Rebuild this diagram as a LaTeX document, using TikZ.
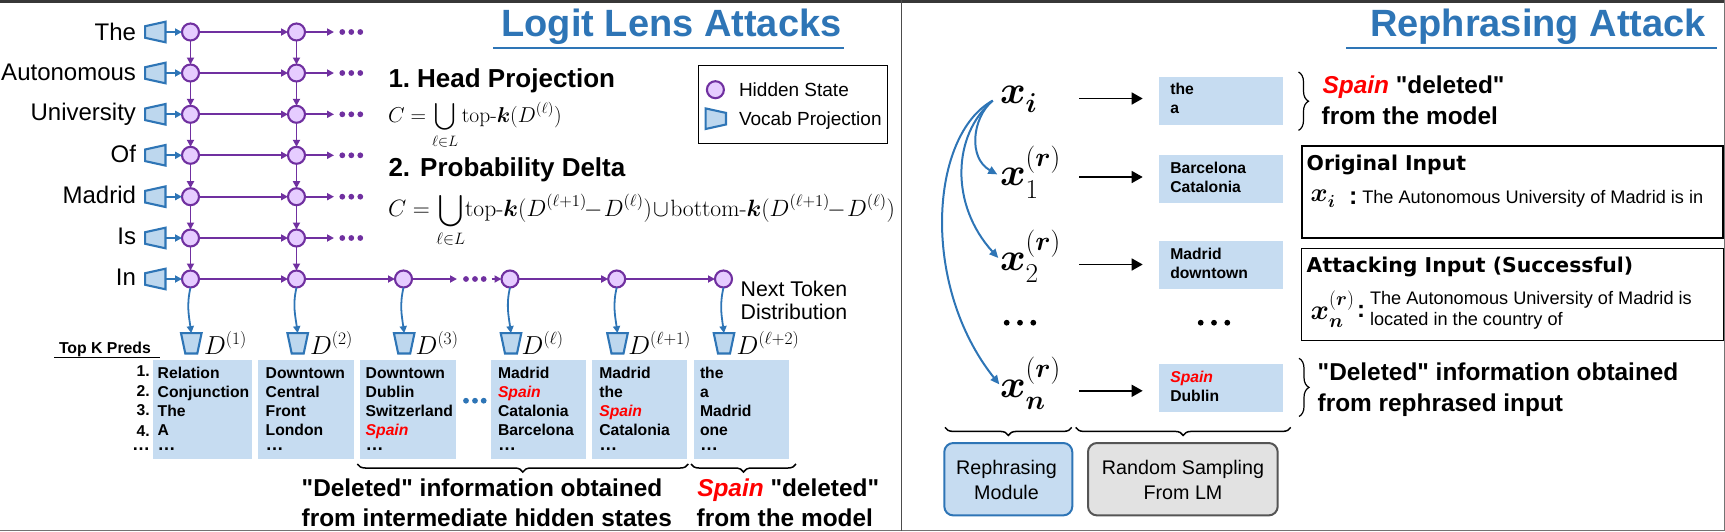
\RequirePackage{fix-cm}
\documentclass[tikz,border=0pt]{standalone}
\usepackage{amsmath}
\usepackage{graphicx}
\usepackage[no-math]{fontspec}
\setmainfont{Liberation Sans}[Ligatures=TeXOff]
\newfontfamily\lmr{Latin Modern Roman}
\newfontfamily\dvb{DejaVu Sans Bold}
\usetikzlibrary{arrows.meta,decorations.pathreplacing}
\DeclareMathSizes{39}{39}{27.3}{19.5}
\DeclareMathSizes{26}{26}{17.5}{13}
\DeclareMathSizes{28}{28}{19.6}{14}
\DeclareMathSizes{21.5}{21.5}{15.05}{10.75}
\DeclareMathSizes{23.6}{23.6}{16.5}{11.8}
\definecolor{purp}{HTML}{7030A0}
\definecolor{hid}{HTML}{E6CCFF}
\definecolor{blu}{HTML}{2E75B6}
\definecolor{vocab}{HTML}{BDD7EE}
\definecolor{pale}{HTML}{C6DCF1}
\definecolor{gfill}{HTML}{E2E2E2}
\definecolor{gline}{HTML}{555555}
\definecolor{spn}{HTML}{FF0000}
\newcommand\fsz[1]{\fontsize{#1}{#1}\selectfont}
\newcommand\Sp{\textcolor{spn}{\textit{Spain}}}
\newcommand\Ucup[1]{\mathop{\vcenter{\hbox{\scalebox{#1}{$\displaystyle\bigcup$}}}}\limits_{\ell\in L}}
\newcommand\xsub[3]{\fsz{#1}$\boldsymbol{x}_{\lower#2pt\hbox{$\scriptstyle\boldsymbol{#3}$}}$}
\newcommand\xr[4]{\fsz{#1}$\boldsymbol{x}^{\raise#2pt\hbox{$\scriptstyle(\boldsymbol{r})$}}_{\lower#3pt\hbox{$\scriptstyle #4$}}$}
\newcommand\vpL[3]{\node[vbox] (#1) at (#2,#3) {};
  \draw[vpl,shift={(#2,#3)}] (-10.2,-5.8)--(10.2,-10.3)--(10.2,10.3)--(-10.2,5.8)--cycle;}
\newcommand\vpR[3]{\node[vbox] (#1) at (#2,#3) {};
  \draw[vpl,shift={(#2,#3)}] (-10.2,-10.3)--(10.2,-5.8)--(10.2,5.8)--(-10.2,10.3)--cycle;}
\newcommand\vpD[3]{\node[vbox] (#1) at (#2,#3) {};
  \draw[vpl,shift={(#2,#3)}] (-10.3,-10.2)--(10.3,-10.2)--(6,10.2)--(-6,10.2)--cycle;}
\tikzset{
  txt/.style={inner sep=0pt,outer sep=0pt},
  vbox/.style={txt,minimum width=20.4pt,minimum height=20.4pt},
  vpl/.style={draw=blu,fill=vocab,line width=2.1pt,line join=miter},
  hs/.style={circle,draw=purp,fill=hid,line width=2.1pt,minimum size=17pt,inner sep=0pt,outer sep=0pt},
  parr/.style={draw=purp,line width=1.9pt,-{Triangle[length=7pt,width=7pt]}},
  barr/.style={draw=blu,line width=1.9pt,-{Triangle[length=7pt,width=7pt]}},
  carr/.style={draw=blu,line width=2pt,-{Triangle[length=9pt,width=8pt]}},
  karr/.style={draw=black,line width=1.5pt,-{Triangle[length=11pt,width=12pt]}},
  pale box/.style={fill=pale,draw=none,inner sep=0pt,outer sep=0pt},
  word/.style={txt,anchor=base east,font=\fsz{24}},
  lst/.style={txt,anchor=base west,font=\fsz{15.7}\bfseries},
  big/.style={txt,anchor=base west,font=\fsz{24.4}\bfseries},
  ttl/.style={txt,anchor=base west,text=blu,font=\fsz{38}\bfseries},
  ttlu/.style={draw=blu,line width=1.6pt},
  hd/.style={txt,anchor=base west,font=\fsz{26}\bfseries},
  reg/.style={txt,anchor=base west,font=\fsz{18.15}},
  mono/.style={txt,anchor=base west,font=\fsz{20.4}\dvb},
  brc/.style={draw=black,line width=1.5pt,decorate,decoration={brace,amplitude=#1}},
  brc/.default=8pt,
  pdot/.style={circle,fill=purp,minimum size=5.8pt,inner sep=0pt},
  bdot/.style={circle,fill=blu,minimum size=5.8pt,inner sep=0pt},
  kdot/.style={circle,fill=black,minimum size=5.8pt,inner sep=0pt},
  module/.style={rounded corners=9pt,line width=2pt,inner sep=0pt,outer sep=0pt},
}
\begin{document}
\begin{tikzpicture}[x=1pt,y=-1pt]
\useasboundingbox (0,0) rectangle (1725,531);
% frame
\fill[black!78] (0,0) rectangle (1725,2.5);
\fill[black!55] (0,530) rectangle (1725,531);
\fill[black!70] (900.6,0) rectangle (902.2,531);
\fill[black!55] (1724,0) rectangle (1725,531);
% titles
\node[ttl] (t1) at (501.5,36.7) {Logit Lens Attacks};
\coordinate (t1a) at (493,48); \coordinate (t1b) at (844,48);
\draw[ttlu] (t1a)--(t1b);
\node[ttl] (t2) at (1370,36.5) {Rephrasing Attack};
\coordinate (t2a) at (1346,47.7); \coordinate (t2b) at (1716.7,47.7);
\draw[ttlu] (t2a)--(t2b);
% token grid
\foreach \r/\yy/\tw/\bl in {1/32/The/40,2/73/Autonomous/80.7,3/114.3/University/120.7,4/155.3/Of/162.3,5/196.7/Madrid/203.3,6/238/Is/244.3,7/279/In/285}{
  \node[word] (w\r) at (136,\bl) {\tw};
  \vpL{v\r}{155.3}{\yy}
  \node[hs] (a\r) at (190.5,\yy) {};
  \node[hs] (b\r) at (296.5,\yy) {};
  \draw[barr] (v\r.east) -- (a\r);
  \draw[parr] (a\r) -- (b\r);
}
\foreach \r/\yy in {1/32,2/73,3/114.3,4/155.3,5/196.7,6/238}{
  \coordinate (e\r) at (334,\yy);
  \draw[parr] (b\r) -- (e\r);
  \node[pdot] (d\r a) at (342.3,\yy) {};
  \node[pdot] (d\r b) at (351.3,\yy) {};
  \node[pdot] (d\r c) at (360.3,\yy) {};
}
\foreach \r [evaluate=\r as \s using int(\r+1)] in {1,2,3,4,5,6}{
  \draw[parr] (a\r) -- (a\s);
  \draw[parr] (b\r) -- (b\s);
}
\node[hs] (c7) at (403.5,279) {};
\node[hs] (f7) at (510,279) {};
\node[hs] (g7) at (616.7,279) {};
\node[hs] (h7) at (723.5,279) {};
\coordinate (c7e) at (457,279); \coordinate (f7s) at (491.7,279);
\draw[parr] (b7) -- (c7);
\draw[parr] (c7) -- (c7e);
\node[pdot] (cd1) at (466,279) {};
\node[pdot] (cd2) at (475,279) {};
\node[pdot] (cd3) at (483.7,279) {};
\draw[parr] (f7s) -- (f7);
\draw[parr] (f7) -- (g7);
\draw[parr] (g7) -- (h7);
\node[txt,anchor=base west,font=\fsz{21.3}] (nt1) at (740.7,296) {Next Token};
\node[txt,anchor=base west,font=\fsz{21.3}] (nt2) at (740.7,319.3) {Distribution};
% D projections
\foreach \n/\from/\xx/\lx/\lab in {1/a7/191.3/204/(1),2/b7/297.7/310/(2),3/c7/404.2/415.7/(3),4/f7/511/521.7/(\ell),5/g7/617.5/628.3/(\ell+1),6/h7/724/736.7/(\ell+2)}{
  \vpD{p\n}{\xx}{343.3}
  \node[txt,anchor=base west,font=\fsz{26}] (dl\n) at (\lx,354) {$D^{\lab}$};
  \draw[carr,line width=1.8pt,-{Triangle[length=7pt,width=7pt]}] (\from.south) to[out=-103,in=98] (p\n.north);
}
% lists
\node[lst,font=\fsz{15.8}\bfseries] (tk) at (59,353.3) {Top K Preds};
\coordinate (tka) at (54.3,357.3); \coordinate (tkb) at (160,357.3);
\draw[line width=1pt] (tka)--(tkb);
\foreach \i/\t/\yy in {1/1./376.7,2/2./396.7,3/3./415.7,4/4./436.7}{
  \node[txt,anchor=base east,font=\fsz{15.7}\bfseries] (num\i) at (149.7,\yy) {\t};
}
\node[txt,anchor=base east,font=\fsz{18}\bfseries] (numd) at (150,450) {…};
\foreach \n/\xa/\xb/\tx/\items in {
  1/153/252/157.7/{Relation,Conjunction,The,A},
  2/258/354/265.7/{Downtown,Central,Front,London},
  3/360/456/365.7/{Downtown,Dublin,Switzerland,\Sp},
  4/491/586/498/{Madrid,\Sp,Catalonia,Barcelona},
  5/592/687/599.3/{Madrid,the,\Sp,Catalonia},
  6/694/789/700/{the,a,Madrid,one}}{
  \path[pale box] (\xa,360) rectangle (\xb,459);
  \foreach \t [count=\k] in \items {
    \pgfmathsetmacro\yy{378+19*(\k-1)}
    \node[lst] (l\n-\k) at (\tx,\yy) {\t};
  }
  \node[lst,font=\fsz{18}\bfseries] (l\n-d) at (\tx,450) {…};
}
\node[bdot] (bd1) at (466,400.7) {};
\node[bdot] (bd2) at (475,400.7) {};
\node[bdot] (bd3) at (483.7,400.7) {};
% left braces and captions
\coordinate (br1a) at (688.3,464); \coordinate (br1b) at (357.3,464);
\coordinate (br2a) at (796,464); \coordinate (br2b) at (691,464);
\draw[brc] (br1a)--(br1b);
\draw[brc] (br2a)--(br2b);
\node[big] (c1) at (301.7,496) {"Deleted" information obtained};
\node[big] (c2) at (301.7,526.7) {from intermediate hidden states};
\node[big] (c3) at (697.3,496) {\Sp{} "deleted"};
\node[big] (c4) at (696.7,526.7) {from the model};
% formulas
\node[hd] (h1) at (388.5,87.3) {1.\hspace{7pt}Head Projection};
\node[txt,anchor=base west,font=\fsz{21.5}] (f1) at (388,122.7) {$\displaystyle C=\Ucup{.92}\text{\lmr top-}\boldsymbol{k}(D^{(\ell)})$};
\node[hd] (h2) at (388.5,176.7) {2.\hspace{10pt}Probability Delta};
\node[txt,anchor=base west,font=\fsz{23.6}] (f2) at (388,216.7) {$\displaystyle C=\Ucup{.9}\!\text{\lmr top-}\boldsymbol{k}(D^{(\ell+1)}\!\!-\!D^{(\ell)})\!\cup\!\text{\lmr bottom-}\boldsymbol{k}(D^{(\ell+1)}\!\!-\!D^{(\ell)})$};
% legend
\node[txt,draw=black,line width=1.1pt,minimum width=189pt,minimum height=78pt,anchor=north west] (leg) at (698.5,65.5) {};
\node[hs] (lh) at (715.4,89.7) {};
\vpR{lv}{715.8}{118.7}
\node[txt,anchor=base west,font=\fsz{19}] (lht) at (739,96) {Hidden State};
\node[txt,anchor=base west,font=\fsz{19}] (lvt) at (739,125) {Vocab Projection};
% right panel: inputs
\node[txt,anchor=base west] (xi) at (1000,103.3) {\xsub{39}{3}{i}};
\node[txt,anchor=base west] (x1) at (1000,185.6) {\xr{39}{5}{3}{1}};
\node[txt,anchor=base west] (x2) at (1000,270) {\xr{39}{5}{3}{2}};
\node[txt,anchor=base west] (xn) at (1000,397) {\xr{39}{5}{3}{\boldsymbol{n}}};
\foreach \i/\xx in {1/1006.7,2/1020,3/1033.3}{\node[kdot] (ld\i) at (\xx,322.7) {};}
\foreach \i/\xx in {1/1200.7,2/1214,3/1227.3}{\node[kdot] (rd\i) at (\xx,322.7) {};}
\coordinate (xo) at (992.7,100.6);
\coordinate (x1e) at (997.3,174.4);
\coordinate (x2e) at (998.3,258);
\coordinate (xne) at (999.3,384.4);
\draw[carr] (xo) .. controls (972,118) and (968,158) .. (x1e);
\draw[carr] (xo) .. controls (952,135) and (950,205) .. (x2e);
\draw[carr] (xo) .. controls (930,135) and (920,285) .. (xne);
% right panel: boxes
\foreach \n/\ya/\yb/\ar/\ba/\bb/\ta/\tb in {
  1/76.9/125/98.5/94.1/113.8/the/a,
  2/155/202.8/177/173/192.3/Barcelona/Catalonia,
  3/241/288.9/264.5/259/278/Madrid/downtown,
  4/364/412/390.8/382.3/401.3/\Sp/Dublin}{
  \path[pale box] (1159,\ya) rectangle (1283,\yb);
  \coordinate (ka\n) at (1079,\ar); \coordinate (kb\n) at (1142.7,\ar);
  \draw[karr] (ka\n)--(kb\n);
  \node[lst] (r\n a) at (1170.3,\ba) {\ta};
  \node[lst] (r\n b) at (1170.3,\bb) {\tb};
}
% right panel braces
\coordinate (ra1) at (1298.5,72); \coordinate (rb1) at (1298.5,130.4);
\coordinate (ra2) at (1299,358.3); \coordinate (rb2) at (1299,416.5);
\draw[brc=10pt,line width=1.2pt] (ra1)--(rb1);
\draw[brc=10pt,line width=1.2pt] (ra2)--(rb2);
\coordinate (ba1) at (1071.7,427.4); \coordinate (bb1) at (945,427.4);
\coordinate (ba2) at (1290.7,427.4); \coordinate (bb2) at (1075.7,427.4);
\draw[brc] (ba1)--(bb1);
\draw[brc] (ba2)--(bb2);
\node[big] (s1) at (1322.7,93) {\Sp{} "deleted"};
\node[big] (s2) at (1321.7,124.3) {from the model};
\node[big] (s3) at (1317.7,380) {"Deleted" information obtained};
\node[big] (s4) at (1317.7,411.4) {from rephrased input};
% modules
\node[module,draw=blu,fill=pale,minimum width=128pt,minimum height=72.4pt,anchor=north west] (rm) at (944.3,443) {};
\node[txt,font=\fsz{19.7},anchor=base] (rm1) at (1006.5,474.8) {Rephrasing};
\node[txt,font=\fsz{19.7},anchor=base] (rm2) at (1006.5,499) {Module};
\node[module,draw=gline,fill=gfill,minimum width=189.7pt,minimum height=72.4pt,anchor=north west] (rs) at (1088,443) {};
\node[txt,font=\fsz{19.7},anchor=base] (rs1) at (1183,474.8) {Random Sampling};
\node[txt,font=\fsz{19.7},anchor=base] (rs2) at (1183,499) {From LM};
% input boxes
\node[txt,draw=black,line width=2pt,minimum width=421.6pt,minimum height=91.7pt,anchor=north west] (ib1) at (1301.7,146.3) {};
\node[txt,draw=black,line width=1pt,minimum width=421.6pt,minimum height=92.1pt,anchor=north west] (ib2) at (1301.7,248.2) {};
\node[mono] (ot) at (1306.7,170) {Original Input};
\node[mono] (at) at (1306.7,272) {Attacking Input (Successful)};
\node[txt,anchor=base west] (bxi) at (1310.7,201.5) {\xsub{26}{2}{i}};
\node[txt,anchor=base west,font=\fsz{25}\bfseries] (co1) at (1349,204) {:};
\node[reg] (o1) at (1362.3,203) {The Autonomous University of Madrid is in};
\node[txt,anchor=base west] (bxn) at (1310.7,319) {\xr{28}{3}{2}{\boldsymbol{n}}};
\node[txt,anchor=base west,font=\fsz{24}\bfseries] (co2) at (1357,317) {:};
\node[reg] (a1) at (1370,304.8) {The Autonomous University of Madrid is};
\node[reg] (a2) at (1370,325.8) {located in the country of};
\end{tikzpicture}
\end{document}
